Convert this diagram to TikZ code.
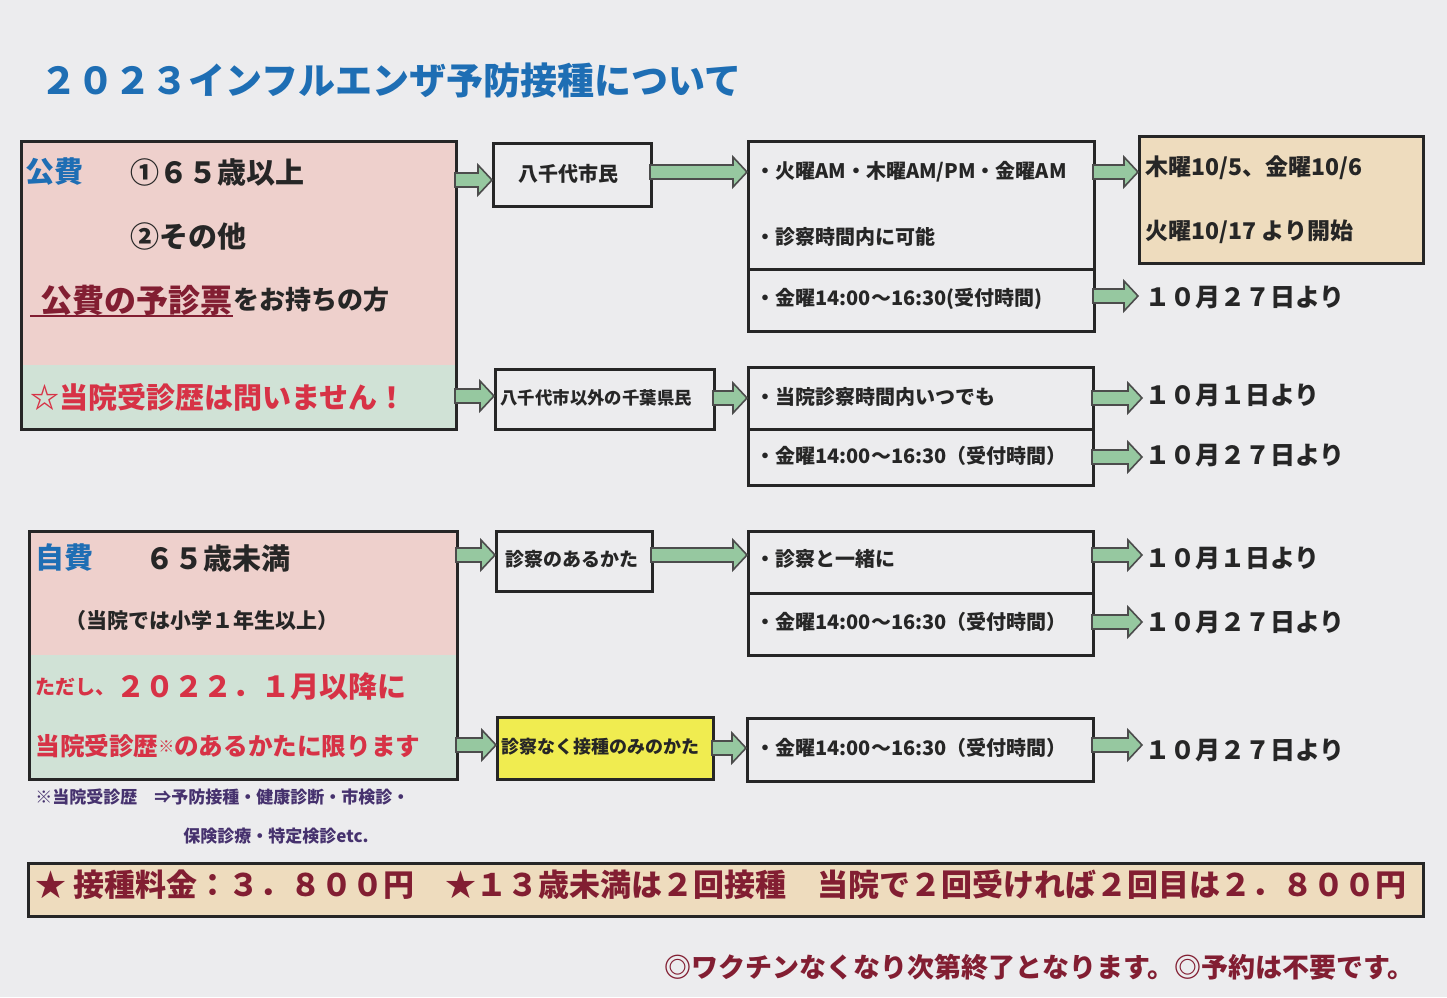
\documentclass[tikz,border=0pt]{standalone}
\usepackage{fontspec}
\setmainfont{Noto Sans CJK JP}
\usetikzlibrary{positioning}
\definecolor{paper}{RGB}{236,236,238}
\definecolor{pinkbg}{RGB}{238,208,204}
\definecolor{greenbg}{RGB}{208,226,214}
\definecolor{beige}{RGB}{238,220,190}
\definecolor{yel}{RGB}{240,236,80}
\definecolor{arrowg}{RGB}{150,200,160}
\definecolor{titleblue}{RGB}{30,110,180}
\definecolor{redtxt}{RGB}{215,50,70}
\definecolor{darkred}{RGB}{130,30,50}
\definecolor{purp}{RGB}{70,50,110}
\tikzset{
  box/.style={draw=black!85,line width=1.4pt,inner sep=0pt},
  lbl/.style={anchor=west,inner sep=0pt,font=\bfseries\fontsize{10}{12}\selectfont,text=black!85},
  date/.style={anchor=west,inner sep=0pt,font=\bfseries\fontsize{12.5}{15}\selectfont,text=black!85},
  big/.style={anchor=west,inner sep=0pt,font=\bfseries\fontsize{14.5}{17}\selectfont,text=black!85},
}
\newcommand{\fatarr}[3]{\fill[arrowg,draw=black!70,line width=0.8pt]
  (#1,#3-7)--(#2-14,#3-7)--(#2-14,#3-15)--(#2,#3)--(#2-14,#3+15)--(#2-14,#3+7)--(#1,#3+7)--cycle;}
\begin{document}
\begin{tikzpicture}[x=0.5pt,y=-0.5pt]
\fill[paper] (0,0) rectangle (1447,997);
\useasboundingbox (0,0) rectangle (1447,997);
\node[anchor=west,inner sep=0pt,text=titleblue,font=\bfseries\fontsize{18.5}{21}\selectfont] (title) at (40,80) {２０２３インフルエンザ予防接種について};
% box 1
\fill[pinkbg] (20,140) rectangle (455,365);
\fill[greenbg] (20,365) rectangle (455,428);
\node[box,minimum width=217.5pt,minimum height=144pt,anchor=north west] (b1) at (20,140) {};
\node[big,text=titleblue] (kh) at (25,172) {公費};
\node[big] at (130,172) {①６５歳以上};
\node[big] at (130,236) {②その他};
\node[big,text=darkred,font=\bfseries\fontsize{16}{19}\selectfont] (yo) at (40,300) {公費の予診票};
\draw[darkred,line width=1.2pt] (30,316)--(yo.south east|-0,316);
\node[big,font=\bfseries\fontsize{13}{15}\selectfont] at (yo.east) [anchor=west] {をお持ちの方};
\node[big,text=redtxt] at (30,397) {☆当院受診歴は問いません！};
% row 1
\node[box,minimum width=79pt,minimum height=31.5pt,anchor=north west] (yc) at (492,142) {};
\node[lbl] at (518,174) {八千代市民};
\node[box,minimum width=173pt,minimum height=64pt,anchor=north west] (r1a) at (747,140) {};
\node[lbl] at (755,172) {・火曜AM・木曜AM/PM・金曜AM};
\node[lbl] at (755,237) {・診察時間内に可能};
\node[box,minimum width=173pt,minimum height=31pt,anchor=north west] (r1b) at (747,268) {};
\node[lbl] at (755,299) {・金曜14:00～16:30(受付時間)};
\fill[beige] (1138,135) rectangle (1422,262);
\node[box,minimum width=142pt,minimum height=63.5pt,anchor=north west] (bd) at (1138,135) {};
\node[date,font=\bfseries\fontsize{11.5}{14}\selectfont] at (1145,168) {木曜10/5、金曜10/6};
\node[date,font=\bfseries\fontsize{11.5}{14}\selectfont] at (1145,232) {火曜10/17 より開始};
\node[date] at (1145,297) {１０月２７日より};
\fatarr{455}{492}{180}
\fatarr{650}{747}{172}
\fatarr{1093}{1138}{172}
\fatarr{1093}{1138}{296}
% row 2
\node[box,minimum width=109.5pt,minimum height=30pt,anchor=north west] (ot) at (494,368) {};
\node[lbl,font=\bfseries\fontsize{8.7}{10}\selectfont] at (500,398) {八千代市以外の千葉県民};
\node[box,minimum width=172.5pt,minimum height=31pt,anchor=north west] (r2a) at (747,366) {};
\node[lbl] at (755,397) {・当院診察時間内いつでも};
\node[box,minimum width=172.5pt,minimum height=28pt,anchor=north west] (r2b) at (747,428) {};
\node[lbl] at (755,456) {・金曜14:00～16:30（受付時間）};
\node[date] at (1145,395) {１０月１日より};
\node[date] at (1145,455) {１０月２７日より};
\fatarr{455}{494}{396}
\fatarr{713}{747}{398}
\fatarr{1092}{1142}{398}
\fatarr{1092}{1142}{457}
% box 2
\fill[pinkbg] (28,530) rectangle (456,655);
\fill[greenbg] (28,655) rectangle (456,778);
\node[box,minimum width=214pt,minimum height=124pt,anchor=north west] (b2) at (28,530) {};
\node[big,text=titleblue] at (35,558) {自費};
\node[big] at (145,558) {６５歳未満};
\node[lbl,font=\bfseries\fontsize{10.5}{12}\selectfont] at (65,621) {（当院では小学１年生以上）};
\node[lbl,text=redtxt] (td) at (35,687) {ただし、};
\node[big,text=redtxt] at (td.east) [anchor=west] {２０２２．１月以降に};
\node[big,text=redtxt,font=\bfseries\fontsize{12.3}{14}\selectfont] at (35,746) {当院受診歴\raisebox{0.2ex}{\fontsize{8}{9}\selectfont ※}のあるかたに限ります};
\node[box,minimum width=78pt,minimum height=30pt,anchor=north west] (sa) at (495,530) {};
\node[lbl,font=\bfseries\fontsize{9.5}{11}\selectfont] at (505,559) {診察のあるかた};
\node[box,minimum width=172.5pt,minimum height=31pt,anchor=north west] (r3a) at (747,530) {};
\node[lbl] at (755,559) {・診察と一緒に};
\node[box,minimum width=172.5pt,minimum height=31pt,anchor=north west] (r3b) at (747,592) {};
\node[lbl] at (755,622) {・金曜14:00～16:30（受付時間）};
\node[date] at (1145,558) {１０月１日より};
\node[date] at (1145,622) {１０月２７日より};
\fatarr{456}{495}{555}
\fatarr{651}{747}{555}
\fatarr{1092}{1142}{555}
\fatarr{1092}{1142}{622}
\fill[yel] (496,716) rectangle (712,778);
\node[box,minimum width=108pt,minimum height=31pt,anchor=north west] (no) at (496,716) {};
\node[lbl,font=\bfseries\fontsize{9}{11}\selectfont] at (501,747) {診察なく接種のみのかた};
\node[box,minimum width=173pt,minimum height=31.5pt,anchor=north west] (r4) at (746,717) {};
\node[lbl] at (755,748) {・金曜14:00～16:30（受付時間）};
\node[date] at (1145,750) {１０月２７日より};
\fatarr{456}{496}{745}
\fatarr{712}{746}{748}
\fatarr{1092}{1142}{745}
% notes
\node[lbl,text=purp,font=\bfseries\fontsize{8.5}{10}\selectfont] at (35,797) {※当院受診歴\quad ⇒予防接種・健康診断・市検診・};
\node[lbl,text=purp,font=\bfseries\fontsize{8.5}{10}\selectfont] at (183,836) {保険診療・特定検診etc.};
\fill[beige] (27,862) rectangle (1422,915);
\node[box,minimum width=697.5pt,minimum height=26.5pt,anchor=north west] (fee) at (27,862) {};
\node[big,text=darkred,font=\bfseries\fontsize{15.5}{18}\selectfont] at (35,885) {★ 接種料金：３．８００円\quad ★１３歳未満は２回接種\quad 当院で２回受ければ２回目は２．８００円};
\node[anchor=east,inner sep=0pt,text=darkred,font=\bfseries\fontsize{13.5}{16}\selectfont] (end) at (1415,967) {◎ワクチンなくなり次第終了となります。◎予約は不要です。};
\end{tikzpicture}
\end{document}
